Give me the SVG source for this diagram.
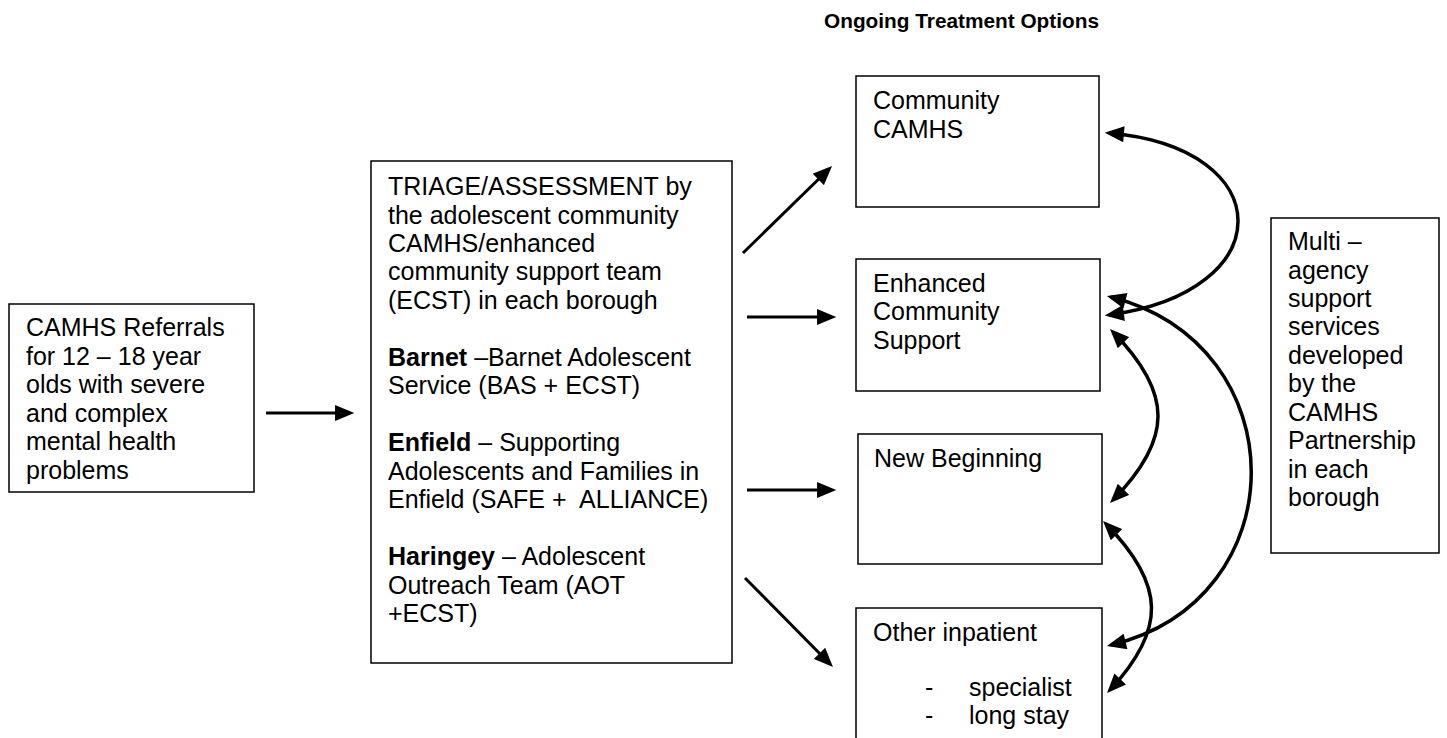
<svg xmlns="http://www.w3.org/2000/svg" width="1447" height="738" viewBox="0 0 1447 738">
<defs>
<style>
.box{fill:#fff;stroke:#000;stroke-width:1.5}
.t{font-family:"Liberation Sans",Arial,sans-serif;font-size:25px;fill:#000}
.b{font-weight:bold}
.title{font-family:"Liberation Sans",Arial,sans-serif;font-size:20.8px;font-weight:bold;fill:#000}
.c{fill:none;stroke:#000;stroke-width:3}
.cc{fill:none;stroke:#000;stroke-width:3.5}
</style>
<marker id="ah" markerUnits="userSpaceOnUse" markerWidth="20" markerHeight="16" refX="14" refY="7.5" orient="auto-start-reverse" viewBox="0 0 18 15">
<path d="M0,0 L18,7.5 L0,15 z" fill="#000"/>
</marker>
</defs>
<rect width="1447" height="738" fill="#fff"/>
<text class="title" x="824" y="28">Ongoing Treatment Options</text>

<g id="referrals">
<rect class="box" x="9" y="304" width="245" height="188"/>
<text class="t" x="26" y="336">CAMHS Referrals</text>
<text class="t" x="26" y="364.5">for 12 – 18 year</text>
<text class="t" x="26" y="393">olds with severe</text>
<text class="t" x="26" y="421.5">and complex</text>
<text class="t" x="26" y="450">mental health</text>
<text class="t" x="26" y="478.5">problems</text>
</g>

<g id="triage">
<rect class="box" x="371" y="161" width="361" height="502"/>
<text class="t" x="388" y="195">TRIAGE/ASSESSMENT by</text>
<text class="t" x="388" y="223.5">the adolescent community</text>
<text class="t" x="388" y="252">CAMHS/enhanced</text>
<text class="t" x="388" y="280.4">community support team</text>
<text class="t" x="388" y="308.9">(ECST) in each borough</text>
<text class="t" x="388" y="366"><tspan class="b">Barnet</tspan> –Barnet Adolescent</text>
<text class="t" x="388" y="394.3">Service (BAS + ECST)</text>
<text class="t" x="388" y="451.3"><tspan class="b">Enfield</tspan> – Supporting</text>
<text class="t" x="388" y="479.7">Adolescents and Families in</text>
<text class="t" x="388" y="508.2" xml:space="preserve">Enfield (SAFE +  ALLIANCE)</text>
<text class="t" x="388" y="565.1"><tspan class="b">Haringey</tspan> – Adolescent</text>
<text class="t" x="388" y="593.6">Outreach Team (AOT</text>
<text class="t" x="388" y="622">+ECST)</text>
</g>

<g id="community-camhs">
<rect class="box" x="856" y="76" width="243" height="131"/>
<text class="t" x="873" y="109">Community</text>
<text class="t" x="873" y="137.5">CAMHS</text>
</g>

<g id="enhanced">
<rect class="box" x="856" y="259" width="244" height="132"/>
<text class="t" x="873" y="291.5">Enhanced</text>
<text class="t" x="873" y="320">Community</text>
<text class="t" x="873" y="348.5">Support</text>
</g>

<g id="new-beginning">
<rect class="box" x="858" y="434" width="244" height="130"/>
<text class="t" x="874" y="466.5">New Beginning</text>
</g>

<g id="other-inpatient">
<rect class="box" x="856" y="608" width="246" height="140"/>
<text class="t" x="873" y="640.5">Other inpatient</text>
<text class="t" x="925" y="696">-</text>
<text class="t" x="969" y="696">specialist</text>
<text class="t" x="925" y="724">-</text>
<text class="t" x="969" y="724">long stay</text>
</g>

<g id="multi-agency">
<rect class="box" x="1271" y="218" width="168" height="335"/>
<text class="t" x="1288" y="250">Multi –</text>
<text class="t" x="1288" y="278.5">agency</text>
<text class="t" x="1288" y="307">support</text>
<text class="t" x="1288" y="335.4">services</text>
<text class="t" x="1288" y="363.9">developed</text>
<text class="t" x="1288" y="392.4">by the</text>
<text class="t" x="1288" y="420.8">CAMHS</text>
<text class="t" x="1288" y="449.3">Partnership</text>
<text class="t" x="1288" y="477.8">in each</text>
<text class="t" x="1288" y="506.2">borough</text>
</g>

<g id="connectors">
<line class="c" x1="266" y1="413" x2="350" y2="413" marker-end="url(#ah)"/>
<line class="c" x1="743" y1="253" x2="829" y2="169" marker-end="url(#ah)"/>
<line class="c" x1="747" y1="317" x2="832" y2="317" marker-end="url(#ah)"/>
<line class="c" x1="747" y1="490" x2="832" y2="490" marker-end="url(#ah)"/>
<line class="c" x1="745" y1="578" x2="830" y2="664" marker-end="url(#ah)"/>
<path class="cc" d="M1109,133 C1281,148 1281,292 1109,315" marker-start="url(#ah)" marker-end="url(#ah)"/>
<path class="cc" d="M1111,297 C1298,345 1298,600 1111,645" marker-start="url(#ah)" marker-end="url(#ah)"/>
<path class="cc" d="M1113,332 C1173,393 1173,439 1113,500" marker-start="url(#ah)" marker-end="url(#ah)"/>
<path class="cc" d="M1106,524 C1166,585 1166,630 1110,690" marker-start="url(#ah)" marker-end="url(#ah)"/>
</g>
</svg>
